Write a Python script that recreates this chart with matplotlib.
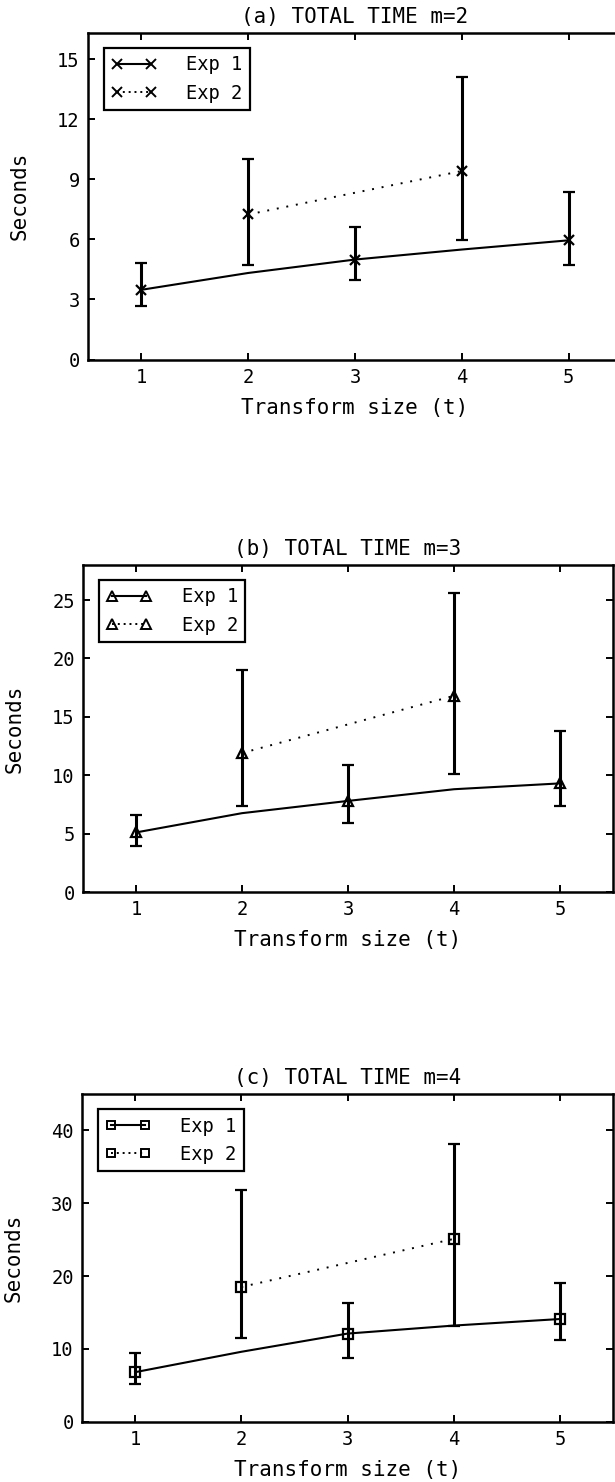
import matplotlib
matplotlib.use('Agg')
import matplotlib.pyplot as plt
from matplotlib.lines import Line2D

plt.rcParams['font.family'] = ['DejaVu Sans Mono', 'DejaVu Sans']

# Transform sizes on the x axis
t = [1, 2, 3, 4, 5]
exp1_marked = [0, 2, 4]      # Exp 1 points that carry a marker and an error bar
exp2_t = [2, 4]

# (a) m=2
a_exp1 = [3.48, 4.32, 4.99, 5.49, 5.95]
a_exp1_lo = [2.68, 3.98, 4.74]
a_exp1_hi = [4.84, 6.60, 8.35]
a_exp2 = [7.24, 9.41]
a_exp2_lo = [4.74, 5.99]
a_exp2_hi = [10.03, 14.10]

# (b) m=3
b_exp1 = [5.1, 6.75, 7.8, 8.8, 9.3]
b_exp1_lo = [3.9, 5.9, 7.35]
b_exp1_hi = [6.6, 10.9, 13.8]
b_exp2 = [11.9, 16.8]
b_exp2_lo = [7.4, 10.1]
b_exp2_hi = [19.0, 25.6]

# (c) m=4
c_exp1 = [6.8, 9.6, 12.1, 13.2, 14.1]
c_exp1_lo = [5.2, 8.7, 11.2]
c_exp1_hi = [9.4, 16.3, 19.1]
c_exp2 = [18.5, 25.1]
c_exp2_lo = [11.5, 13.2]
c_exp2_hi = [31.8, 38.1]

panels = [
    dict(title='(a) TOTAL TIME m=2', marker='x', ymax=16.3, yticks=[0, 3, 6, 9, 12, 15],
         exp1=a_exp1, exp1_lo=a_exp1_lo, exp1_hi=a_exp1_hi,
         exp2=a_exp2, exp2_lo=a_exp2_lo, exp2_hi=a_exp2_hi,
         box=(88, 622, 33, 359.5)),
    dict(title='(b) TOTAL TIME m=3', marker='^', ymax=28.0, yticks=[0, 5, 10, 15, 20, 25],
         exp1=b_exp1, exp1_lo=b_exp1_lo, exp1_hi=b_exp1_hi,
         exp2=b_exp2, exp2_lo=b_exp2_lo, exp2_hi=b_exp2_hi,
         box=(83, 613, 565, 892)),
    dict(title='(c) TOTAL TIME m=4', marker='s', ymax=45.0, yticks=[0, 10, 20, 30, 40],
         exp1=c_exp1, exp1_lo=c_exp1_lo, exp1_hi=c_exp1_hi,
         exp2=c_exp2, exp2_lo=c_exp2_lo, exp2_hi=c_exp2_hi,
         box=(82, 613, 1094, 1421.7)),
]

W, H = 615, 1482
fig = plt.figure(figsize=(W / 100, H / 100), dpi=100)

msize = {'x': 7.5, '^': 7.5, 's': 6.5}

for p in panels:
    x0, x1, y0, y1 = p['box']
    ax = fig.add_axes([x0 / W, 1 - y1 / H, (x1 - x0) / W, (y1 - y0) / H])
    mk = p['marker']
    ms = msize[mk]
    mface = 'none' if mk != 'x' else 'k'

    # Exp 1: solid line through every size
    ax.plot(t, p['exp1'], color='k', lw=1.5, zorder=2)
    # Exp 1 markers with min/max bars at t = 1, 3, 5
    tm = [t[i] for i in exp1_marked]
    ym = [p['exp1'][i] for i in exp1_marked]
    err1 = [[y - lo for y, lo in zip(ym, p['exp1_lo'])],
            [hi - y for y, hi in zip(ym, p['exp1_hi'])]]
    ax.errorbar(tm, ym, yerr=err1, fmt=mk, color='k', ms=ms, mfc=mface, mew=1.6,
                elinewidth=2.2, capsize=4, capthick=1.6, zorder=3)

    # Exp 2: dotted line at t = 2, 4
    ax.plot(exp2_t, p['exp2'], color='k', lw=1.4, ls=(0, (1, 4)), zorder=2)
    err2 = [[y - lo for y, lo in zip(p['exp2'], p['exp2_lo'])],
            [hi - y for y, hi in zip(p['exp2'], p['exp2_hi'])]]
    ax.errorbar(exp2_t, p['exp2'], yerr=err2, fmt=mk, color='k', ms=ms, mfc=mface, mew=1.6,
                elinewidth=2.2, capsize=4, capthick=1.6, zorder=3)

    ax.set_xlim(0.5, 5.5)
    ax.set_ylim(0, p['ymax'])
    ax.set_xticks(t)
    ax.set_yticks(p['yticks'])
    ax.tick_params(direction='in', length=5, width=1.4, top=True, right=True,
                   labelsize=13.5, pad=6)
    for s in ax.spines.values():
        s.set_linewidth(1.8)

    ax.set_title(p['title'], fontsize=15, pad=7)
    ax.set_xlabel('Transform size (t)', fontsize=15, labelpad=8)
    ax.set_ylabel('Seconds', fontsize=15, labelpad=20)

    # legend built from proxy lines so both entries show a marker at each end
    handles = [
        Line2D([], [], color='k', lw=1.5, marker=mk, ms=ms - 0.5, mfc=mface, mew=1.4),
        Line2D([], [], color='k', lw=1.4, ls=(0, (1, 2)), marker=mk, ms=ms - 0.5, mfc=mface, mew=1.4),
    ]
    ax_w = x1 - x0
    ax_h = y1 - y0
    leg = ax.legend(handles, ['Exp 1', 'Exp 2'], loc='upper left',
                    bbox_to_anchor=(16 / ax_w, 1 - 15 / ax_h), borderaxespad=0,
                    fontsize=13.5, numpoints=2, handlelength=2.4, handletextpad=1.6,
                    borderpad=0.4, labelspacing=0.5, fancybox=False, framealpha=1)
    leg.get_frame().set_edgecolor('k')
    leg.get_frame().set_linewidth(1.6)

fig.savefig('out.png', dpi=100)
